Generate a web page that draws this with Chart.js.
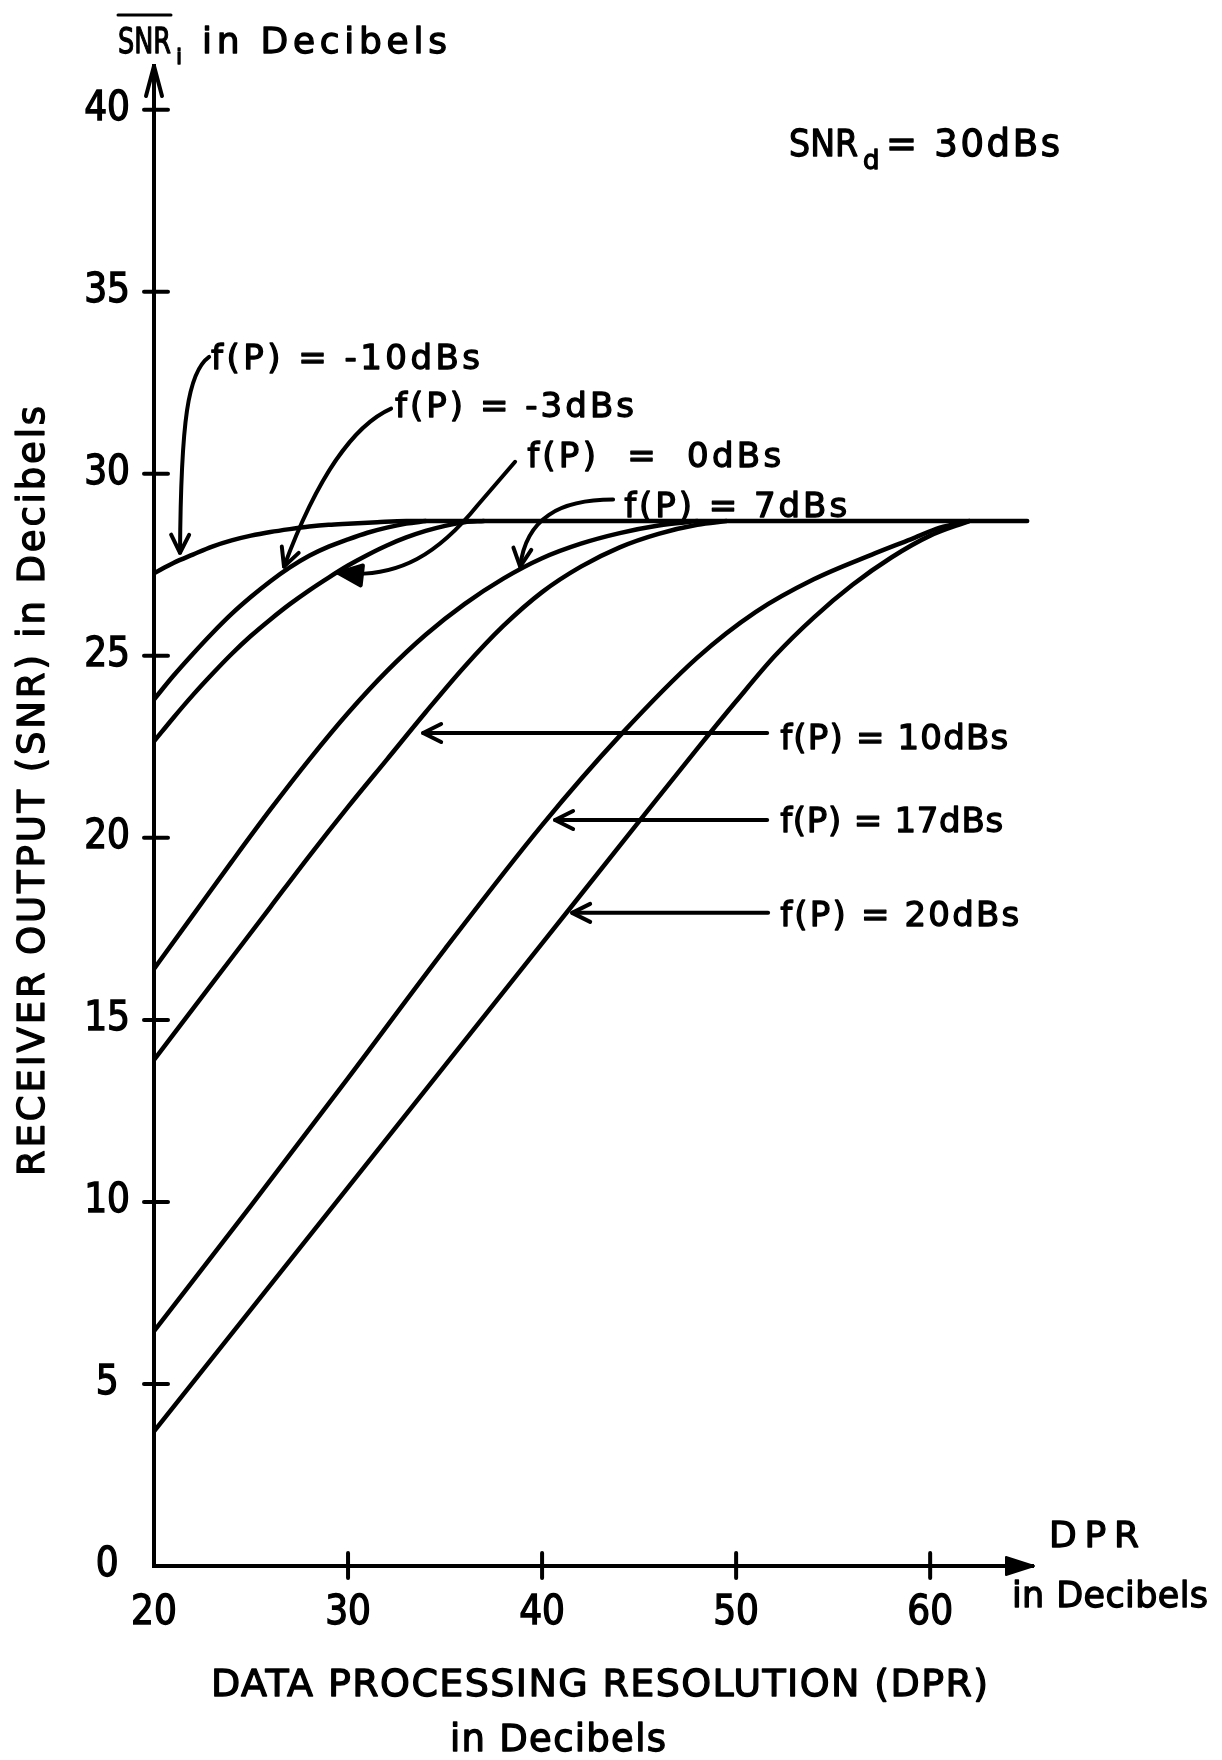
<!DOCTYPE html>
<html lang="en">
<head>
<meta charset="UTF-8">
<title>Receiver output SNR vs data processing resolution</title>
<script src="https://cdn.jsdelivr.net/npm/chart.js@4"></script>
<style>
  html, body { margin: 0; padding: 0; background: #fff; }
  #wrap { position: relative; width: 1222px; height: 1760px; }
</style>
</head>
<body>
<div id="wrap"><canvas id="chart"></canvas></div>
<script>
// axes
const dprTicks = [20, 30, 40, 50, 60];
const snrTicks = [0, 5, 10, 15, 20, 25, 30, 35, 40];
const dprRange = [20, 65.3];
const snrRange = [0, 41.2];

// one curve per f(P) value (dBs)
const fpValues = ["-10", "-3", "0", "7", "10", "17", "20"];

const dprM10 = [20, 21, 22, 23, 24, 25, 26, 27, 28, 29, 30, 31.5, 33, 65];
const snrM10 = [27.27, 27.55, 27.78, 28.0, 28.17, 28.3, 28.4, 28.48, 28.55, 28.6, 28.63, 28.67, 28.7, 28.7];

const dprM3 = [20, 21, 22, 23, 24, 25, 26, 27, 28, 29, 30, 31, 32, 33, 34];
const snrM3 = [23.8, 24.45, 25.05, 25.62, 26.15, 26.62, 27.05, 27.43, 27.75, 28.0, 28.2, 28.38, 28.52, 28.63, 28.7];

const dpr0 = [20, 21, 22, 23, 24, 25, 26, 27, 28, 29, 30, 31, 32, 33, 34, 35, 36, 37];
const snr0 = [22.65, 23.3, 23.92, 24.5, 25.05, 25.55, 26.0, 26.42, 26.8, 27.15, 27.48, 27.77, 28.03, 28.25, 28.43, 28.57, 28.67, 28.7];

const dpr7 = [20, 22, 24, 26, 28, 30, 32, 34, 36, 38, 40, 42, 44, 46, 48];
const snr7 = [16.4, 17.87, 19.34, 20.78, 22.15, 23.43, 24.58, 25.58, 26.42, 27.12, 27.68, 28.08, 28.37, 28.58, 28.7];

const dpr10 = [20, 22, 24, 26, 28, 30, 32, 34, 36, 38, 40, 42, 44, 46, 48, 49.5];
const snr10 = [13.9, 15.3, 16.7, 18.1, 19.5, 20.85, 22.15, 23.45, 24.7, 25.82, 26.75, 27.45, 27.98, 28.35, 28.6, 28.7];

const dpr17 = [20, 25, 30, 35, 40, 44, 48, 51, 54, 57, 59, 60.5, 62];
const snr17 = [6.45, 9.9, 13.4, 16.95, 20.35, 22.8, 24.95, 26.2, 27.1, 27.78, 28.2, 28.52, 28.7];

const dpr20 = [20, 25, 30, 35, 40, 45, 48, 50, 52, 54, 56, 58, 60, 62];
const snr20 = [3.7, 7.05, 10.4, 13.75, 17.1, 20.45, 22.45, 23.75, 25.0, 26.05, 26.95, 27.7, 28.3, 28.7];

const curves = [
  [dprM10, snrM10], [dprM3, snrM3], [dpr0, snr0], [dpr7, snr7],
  [dpr10, snr10], [dpr17, snr17], [dpr20, snr20]
];

const FONT = "'DejaVu Sans', sans-serif";
const NARROW = "'DejaVu Sans Condensed', 'Liberation Sans Narrow', 'DejaVu Sans', sans-serif";

// curve labels, anchored in data units (DPR, dB); leader paths likewise
const notes = [
  { text: "f(P) = -10dBs", at: [22.94, 32.88], w: 269,
    path: [["M", 22.84, 33.21], ["C", 21.75, 32.8, 21.39, 31.48, 21.34, 27.83]], head: "open" },
  { text: "f(P) = -3dBs", at: [32.42, 31.57], w: 239,
    path: [["M", 32.22, 31.79], ["C", 30.36, 31.35, 28.45, 29.97, 26.7, 27.45]], head: "open" },
  { text: "f(P)  =  0dBs", at: [39.23, 30.19], w: 254,
    path: [["M", 38.61, 30.33], ["L", 36.7, 29.15], ["C", 34.74, 27.86, 32.68, 27.09, 29.48, 27.28]], head: "solid" },
  { text: "f(P) = 7dBs", at: [44.23, 28.82], w: 223,
    path: [["M", 43.66, 29.29], ["C", 40.93, 29.29, 39.18, 28.79, 38.87, 27.45]], head: "open" },
  { text: "f(P) = 10dBs", at: [52.27, 22.45], w: 228,
    path: [["M", 51.6, 22.88], ["L", 33.87, 22.88]], head: "open" },
  { text: "f(P) = 17dBs", at: [52.27, 20.16], w: 223,
    path: [["M", 51.6, 20.49], ["L", 40.67, 20.49]], head: "open" },
  { text: "f(P) = 20dBs", at: [52.27, 17.58], w: 239,
    path: [["M", 51.65, 17.94], ["L", 41.55, 17.94]], head: "open" }
];

// fill + thin stroke to get the heavier lettering of the original
function fitText(ctx, str, x, y, size, width, family) {
  ctx.save();
  ctx.font = size + "px " + (family || FONT);
  ctx.textBaseline = "alphabetic";
  ctx.textAlign = "left";
  ctx.lineWidth = 1.3;
  ctx.lineJoin = "round";
  const w = ctx.measureText(str).width;
  if (width && width > w && "letterSpacing" in ctx && str.length > 1) {
    ctx.letterSpacing = ((width - w) / (str.length - 1)).toFixed(2) + "px";
  } else {
    ctx.translate(x, y);
    if (width) ctx.scale(width / w, 1);
    x = 0; y = 0;
  }
  ctx.fillText(str, x, y);
  ctx.strokeText(str, x, y);
  ctx.restore();
}

function arrowHead(ctx, fx, fy, tx, ty, len, half, solid) {
  const a = Math.atan2(ty - fy, tx - fx);
  const bx = tx - len * Math.cos(a), by = ty - len * Math.sin(a);
  const nx = -Math.sin(a) * half, ny = Math.cos(a) * half;
  ctx.beginPath();
  ctx.moveTo(bx + nx, by + ny);
  ctx.lineTo(tx, ty);
  ctx.lineTo(bx - nx, by - ny);
  if (solid) { ctx.closePath(); ctx.fill(); }
  ctx.stroke();
}

const notesPlugin = {
  id: "notes",
  afterDraw(chart) {
    const ctx = chart.ctx;
    const X = d => chart.scales.x.getPixelForValue(d);
    const Y = v => chart.scales.y.getPixelForValue(v);
    const { left, right, top, bottom } = chart.chartArea;
    ctx.save();
    ctx.fillStyle = "#000";
    ctx.strokeStyle = "#000";
    ctx.lineCap = "round";
    ctx.lineJoin = "round";
    ctx.lineWidth = 4;

    // tick marks crossing the axes
    snrTicks.forEach(v => {
      if (v === snrRange[0]) return;
      ctx.beginPath(); ctx.moveTo(left - 10, Y(v)); ctx.lineTo(left + 14, Y(v)); ctx.stroke();
    });
    dprTicks.forEach(d => {
      if (d === dprRange[0]) return;
      ctx.beginPath(); ctx.moveTo(X(d), bottom - 13); ctx.lineTo(X(d), bottom + 12); ctx.stroke();
    });

    // axis arrows
    arrowHead(ctx, left, top + 40, left, top, 30, 8, false);
    ctx.lineWidth = 2;
    arrowHead(ctx, right - 40, bottom, right + 1, bottom, 28, 9, true);

    // curve labels with leaders
    notes.forEach(n => {
      fitText(ctx, n.text, X(n.at[0]), Y(n.at[1]), 34, n.w);
      ctx.lineWidth = 4;
      ctx.beginPath();
      let prev = null, last = null;
      n.path.forEach(s => {
        if (s[0] === "M") { ctx.moveTo(X(s[1]), Y(s[2])); last = [s[1], s[2]]; }
        else if (s[0] === "L") { prev = last; ctx.lineTo(X(s[1]), Y(s[2])); last = [s[1], s[2]]; }
        else {
          ctx.bezierCurveTo(X(s[1]), Y(s[2]), X(s[3]), Y(s[4]), X(s[5]), Y(s[6]));
          prev = [s[3], s[4]]; last = [s[5], s[6]];
        }
      });
      ctx.stroke();
      const solid = n.head === "solid";
      arrowHead(ctx, X(prev[0]), Y(prev[1]), X(last[0]), Y(last[1]), solid ? 24 : 18, solid ? 10 : 9, solid);
    });

    // SNR_d = 30 dBs
    const sx = X(52.73), sy = Y(38.72);
    fitText(ctx, "SNR", sx, sy, 37, 69);
    fitText(ctx, "d", sx + 74, sy + 13, 26, 0);
    fitText(ctx, "= 30dBs", sx + 97, sy, 37, 174);

    // y-axis top label: SNR-bar sub i in Decibels
    fitText(ctx, "SNR", 118, 53, 35, 53);
    ctx.lineWidth = 3;
    ctx.beginPath(); ctx.moveTo(118, 15); ctx.lineTo(171, 15); ctx.stroke();
    fitText(ctx, "i", 176, 64, 22, 0);
    fitText(ctx, "in Decibels", 202, 53, 36, 245);

    // y-axis title
    ctx.save();
    ctx.translate(31, 791);
    ctx.rotate(-Math.PI / 2);
    fitText(ctx, "RECEIVER OUTPUT (SNR) in Decibels", -385, 13, 37, 770);
    ctx.restore();

    // x-axis titles
    fitText(ctx, "DPR", 1049, 1547, 36, 90);
    fitText(ctx, "in Decibels", 1012, 1607, 35, 196);
    fitText(ctx, "DATA PROCESSING RESOLUTION (DPR)", 211, 1696, 38, 777);
    fitText(ctx, "in Decibels", 450, 1751, 37, 216);
    ctx.restore();
  }
};

new Chart(document.getElementById("chart"), {
  type: "line",
  data: {
    datasets: curves.map((c, i) => ({
      label: "f(P) = " + fpValues[i] + " dBs",
      data: c[0].map((d, j) => ({ x: d, y: c[1][j] })),
      borderColor: "#000",
      borderWidth: 4.5,
      borderCapStyle: "round",
      borderJoinStyle: "round",
      pointRadius: 0,
      fill: false,
      cubicInterpolationMode: "monotone"
    }))
  },
  options: {
    responsive: true,
    maintainAspectRatio: false,
    animation: false,
    layout: { padding: { left: 10, top: 66, right: 189, bottom: 94 } },
    plugins: { legend: { display: false }, tooltip: { enabled: false } },
    scales: {
      x: {
        type: "linear",
        min: dprRange[0],
        max: dprRange[1],
        afterFit(s) { s.height = 100; },
        afterBuildTicks(s) { s.ticks = dprTicks.map(v => ({ value: v })); },
        grid: { display: false, drawTicks: false },
        border: { display: true, color: "#000", width: 4 },
        ticks: { color: "#000", padding: 24, maxRotation: 0, autoSkip: false,
                 textStrokeColor: "#000", textStrokeWidth: 1.3,
                 font: { family: NARROW, size: 40 } }
      },
      y: {
        type: "linear",
        min: snrRange[0],
        max: snrRange[1],
        afterFit(s) { s.width = 144; },
        afterBuildTicks(s) { s.ticks = snrTicks.map(v => ({ value: v })); },
        grid: { display: false, drawTicks: false },
        border: { display: true, color: "#000", width: 4 },
        ticks: { color: "#000", padding: 24, crossAlign: "center", autoSkip: false,
                 textStrokeColor: "#000", textStrokeWidth: 1.3,
                 font: { family: NARROW, size: 40 } }
      }
    }
  },
  plugins: [notesPlugin]
});
</script>
</body>
</html>
